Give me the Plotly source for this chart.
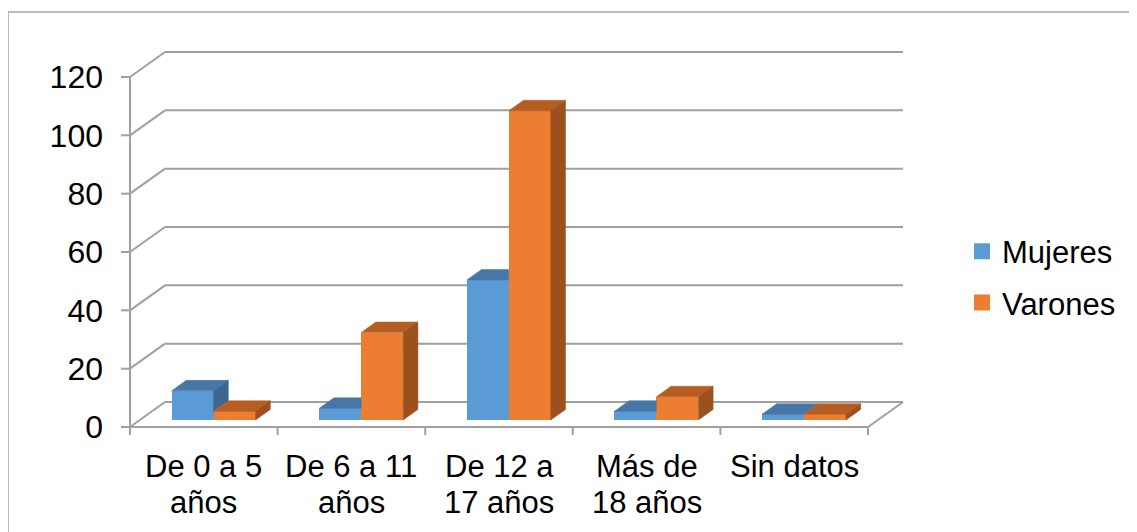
import plotly.graph_objects as go

# data
categorias = [["De 0 a 5", "años"], ["De 6 a 11", "años"], ["De 12 a", "17 años"],
              ["Más de", "18 años"], ["Sin datos"]]
mujeres = [10, 4, 48, 3, 2]
varones = [3, 30, 106, 8, 2]
y_ticks = [0, 20, 40, 60, 80, 100, 120]

AZUL = "#5B9BD5"
AZUL_TOP = "#4677A6"
AZUL_SIDE = "#3B6791"
NARANJA = "#ED7D31"
NARANJA_TOP = "#B65D22"
NARANJA_SIDE = "#9B501E"
GRIS = "#A0A0A0"
FONT = "Liberation Sans, Arial, sans-serif"

# page has an 8px body margin, so work in page pixels minus this offset
OFF = 8
W, H = 1137, 532

# fake 3D geometry (oblique projection), in pixels -> data units
PX_X = 147.6          # px per category
PX_Y = 2.9167         # px per value unit
X0_PX, Y0_PX = 130 - OFF, 427 - OFF   # front-left corner of the floor
DX = 35 / PX_X        # depth of the box
DY = 25 / PX_Y
F0, F1 = 0.28, 0.70   # depth slice taken by the bars
BAR_W = 42 / PX_X

n = len(categorias)
x_lo_box, x_hi_box = -0.5, n - 0.5
L, R, T, B = 112 - OFF, 912 - OFF, 45 - OFF, 438 - OFF
x_range = [x_lo_box - (X0_PX - L) / PX_X, x_lo_box + (R - X0_PX) / PX_X]
y_range = [-(B - Y0_PX) / PX_Y, (Y0_PX - T) / PX_Y]

fx0, fy0 = F0 * DX, F0 * DY
bdx, bdy = (F1 - F0) * DX, (F1 - F0) * DY

fig = go.Figure()

# front faces
fig.add_trace(go.Bar(x=[i + fx0 for i in range(n)], y=mujeres, base=fy0, width=BAR_W,
                     offset=-BAR_W, marker=dict(color=AZUL, line=dict(width=0)),
                     name="Mujeres", showlegend=False, hoverinfo="y"))
fig.add_trace(go.Bar(x=[i + fx0 for i in range(n)], y=varones, base=fy0, width=BAR_W,
                     offset=0, marker=dict(color=NARANJA, line=dict(width=0)),
                     name="Varones", showlegend=False, hoverinfo="y"))


def poly(pts, xs, ys):
    for px, py in pts + [pts[0]]:
        xs.append(px)
        ys.append(py)
    xs.append(None)
    ys.append(None)


def face_trace(xs, ys, color):
    return go.Scatter(x=xs, y=ys, mode="lines", fill="toself", fillcolor=color,
                      line=dict(width=0.5, color=color), hoverinfo="skip", showlegend=False)


# blue tops and sides (clipped where the orange bar hides them)
tx, ty, sx, sy = [], [], [], []
for i in range(n):
    vb, vo = mujeres[i], varones[i]
    xl, xr = i + fx0 - BAR_W, i + fx0
    h = vb + fy0
    if vo > vb:
        poly([(xl, h), (xr, h), (xr, h + bdy), (xl + bdx, h + bdy)], tx, ty)
    else:
        poly([(xl, h), (xr, h), (xr + bdx, h + bdy), (xl + bdx, h + bdy)], tx, ty)
        hl = vo + fy0
        if vb > vo:
            poly([(xr, hl), (xr, h), (xr + bdx, h + bdy), (xr + bdx, hl + bdy)], sx, sy)
fig.add_trace(face_trace(tx, ty, AZUL_TOP))
if sx:
    fig.add_trace(face_trace(sx, sy, AZUL_SIDE))

# orange tops and sides
tx, ty, sx, sy = [], [], [], []
for i in range(n):
    vo = varones[i]
    xl, xr = i + fx0, i + fx0 + BAR_W
    h = vo + fy0
    poly([(xl, h), (xr, h), (xr + bdx, h + bdy), (xl + bdx, h + bdy)], tx, ty)
    poly([(xr, fy0), (xr, h), (xr + bdx, h + bdy), (xr + bdx, fy0 + bdy)], sx, sy)
fig.add_trace(face_trace(tx, ty, NARANJA_TOP))
fig.add_trace(face_trace(sx, sy, NARANJA_SIDE))

# legend entries with bigger squares
for name, color, grp in [("Mujeres", AZUL, "m"), ("Varones", NARANJA, "v")]:
    fig.add_trace(go.Scatter(x=[None], y=[None], mode="markers", name=name, legendgroup=grp,
                             marker=dict(symbol="square", size=16, color=color)))

# walls, floor, axis lines and ticks
shapes = []
line = dict(color=GRIS, width=2)
for v in y_ticks:
    shapes.append(dict(type="line", xref="x", yref="y", layer="below", line=line,
                       x0=x_lo_box + DX, x1=x_hi_box + DX, y0=v + DY, y1=v + DY))
    shapes.append(dict(type="line", xref="x", yref="y", layer="below", line=line,
                       x0=x_lo_box, x1=x_lo_box + DX, y0=v, y1=v + DY))
    shapes.append(dict(type="line", xref="x", yref="y", layer="below", line=line,
                       x0=x_lo_box - 9 / PX_X, x1=x_lo_box, y0=v, y1=v))
shapes.append(dict(type="line", xref="x", yref="y", layer="below", line=line,
                   x0=x_lo_box, x1=x_hi_box, y0=0, y1=0))
shapes.append(dict(type="line", xref="x", yref="y", layer="below", line=line,
                   x0=x_hi_box, x1=x_hi_box + DX, y0=0, y1=DY))
shapes.append(dict(type="line", xref="x", yref="y", layer="below", line=line,
                   x0=x_lo_box, x1=x_lo_box, y0=0, y1=y_ticks[-1]))
for k in range(n + 1):
    xb = x_lo_box + k
    shapes.append(dict(type="line", xref="x", yref="y", layer="below", line=line,
                       x0=xb, x1=xb, y0=0, y1=-8 / PX_Y))

# outer chart border
pw, ph = R - L, B - T
shapes.append(dict(type="rect", xref="paper", yref="paper", layer="below",
                   line=dict(color="#A6A6A6", width=1.5), fillcolor="rgba(0,0,0,0)",
                   x0=(8 - OFF - L) / pw, x1=(W + 10 - L) / pw,
                   y0=(B - (H + 10)) / ph, y1=(B - (12 - OFF)) / ph))

annotations = []
for i, lab in enumerate(categorias):
    for j, txt in enumerate(lab):
        annotations.append(dict(x=i, y=0, xref="x", yref="y", text=txt, showarrow=False,
                                yanchor="middle", yshift=-(39 + 36 * j),
                                font=dict(size=31, color="black", family=FONT)))

fig.update_layout(
    width=W, height=H,
    margin=dict(l=L, r=W - R, t=T, b=H - B, autoexpand=False),
    paper_bgcolor="white", plot_bgcolor="white",
    barmode="overlay", bargap=0,
    font=dict(family=FONT, size=31, color="black"),
    xaxis=dict(range=x_range, visible=False, fixedrange=True),
    yaxis=dict(range=y_range, tickvals=y_ticks, showgrid=False, zeroline=False,
               showline=False, ticks="", ticklabelstandoff=8, fixedrange=True,
               tickfont=dict(size=32, color="black", family=FONT)),
    legend=dict(x=(962 - OFF - L) / pw, y=(B - (277 - OFF)) / ph, xanchor="left",
                yanchor="middle", xref="paper", yref="paper", traceorder="grouped",
                tracegroupgap=8, font=dict(size=31, color="black", family=FONT),
                bgcolor="rgba(0,0,0,0)"),
    shapes=shapes, annotations=annotations,
)

fig.write_html("out.html")
